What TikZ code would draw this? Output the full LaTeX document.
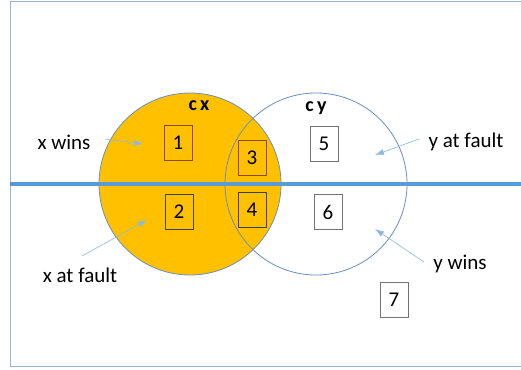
\documentclass[tikz,border=0pt]{standalone}
\usepackage{fontspec}
\setmainfont{Carlito}
\usetikzlibrary{arrows.meta}
\definecolor{gold}{HTML}{FFC000}
\definecolor{ringblue}{HTML}{6A8FC0}
\definecolor{barblue}{HTML}{5B9BD5}
\definecolor{framecol}{HTML}{9BB3D6}
\definecolor{rust}{HTML}{8A4A12}
\begin{document}
\begin{tikzpicture}[x=1pt,y=-1pt]
  \tikzset{numbox/.style={draw=black!75,line width=0.8pt,minimum width=28pt,minimum height=35pt,inner sep=0pt,font=\fontsize{21}{21}\selectfont},
           tag/.style={font=\fontsize{21}{21}\selectfont,inner sep=0pt},
           setname/.style={font=\fontsize{20}{20}\selectfont\bfseries,inner sep=0pt},
           ring/.style={circle,draw=ringblue,line width=0.8pt,minimum size=182pt,inner sep=0pt},
           pointer/.style={draw=barblue!70,line width=0.6pt,-{Latex[length=9pt,width=6pt]}}}
  \useasboundingbox (0,0) rectangle (521,369);
  \draw[framecol,line width=1pt] (521,2) -- (10,2) -- (10,366) -- (521,366);
  \node[ring,fill=gold] (cx) at (190,184) {};
  \node[ring] (cy) at (316,184) {};
  \draw[barblue,line width=4pt] (10,184) -- (521,184);
  \node[setname] (lx) at (199,106) {c\,x};
  \node[setname] (ly) at (316,108) {c\,y};
  \node[numbox,fill=gold,draw=rust] (b1) at (178,143) {1};
  \node[numbox,fill=gold] (b2) at (179,212) {2};
  \node[numbox,fill=gold,draw=rust] (b3) at (252,158) {3};
  \node[numbox,fill=gold] (b4) at (252,210) {4};
  \node[numbox,fill=white,draw=black!55] (b5) at (324,144) {5};
  \node[numbox,fill=white,draw=black!55] (b6) at (328,212) {6};
  \node[numbox,fill=white,draw=black!55] (b7) at (394,300) {7};
  \node[tag] (xwins) at (64,142) {x wins};
  \node[tag] (yfault) at (466,142) {y at fault};
  \node[tag] (xfault) at (80,275) {x at fault};
  \node[tag] (ywins) at (460,264) {y wins};
  \coordinate (p1) at (105,139);
  \coordinate (q1) at (143,144);
  \coordinate (p2) at (419,139);
  \coordinate (q2) at (375,155);
  \coordinate (p3) at (82,256);
  \coordinate (q3) at (147,220);
  \coordinate (p4) at (424,262);
  \coordinate (q4) at (375,229);
  \draw[pointer] (p1) -- (q1);
  \draw[pointer] (p2) -- (q2);
  \draw[pointer] (p3) -- (q3);
  \draw[pointer] (p4) -- (q4);
\end{tikzpicture}
\end{document}
